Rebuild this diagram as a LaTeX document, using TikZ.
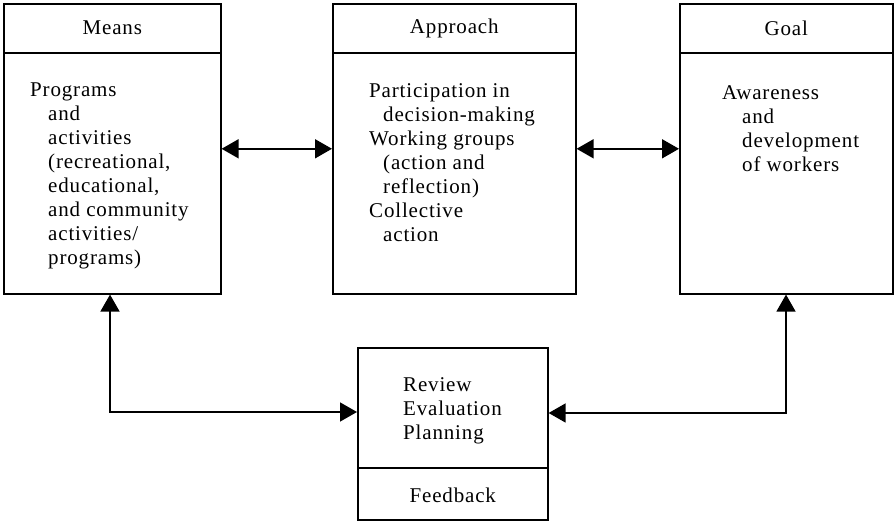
\documentclass[tikz,border=0pt]{standalone}
\usepackage{fontspec}
\setmainfont{Liberation Serif}[LetterSpace=4]
\usetikzlibrary{arrows.meta,calc}
\begin{document}
\begin{tikzpicture}[x=1pt,y=1pt,
  box/.style={draw,line width=1.6pt,rectangle,inner sep=0pt,anchor=north west},
  head/.style={font=\fontsize{21}{24}\selectfont,inner sep=0pt},
  body/.style={font=\fontsize{21}{24}\selectfont,align=left,anchor=north west,inner sep=0pt},
  link/.style={line width=1.6pt,{Triangle[length=17pt,width=19pt]}-{Triangle[length=17pt,width=19pt]}}
]
\useasboundingbox (0,0) rectangle (895,-521);

% three upper boxes
\node[box,minimum width=217pt,minimum height=290pt] (means) at (3,-3) {};
\node[box,minimum width=243pt,minimum height=290pt] (appr) at (332,-3) {};
\node[box,minimum width=213pt,minimum height=290pt] (goal) at (679,-3) {};
% lower box
\node[box,minimum width=190pt,minimum height=172pt] (rev) at (357,-347) {};

% header dividers
\foreach \b in {means,appr,goal}
  \draw[line width=1.6pt] ([yshift=-50pt]\b.north west) -- ([yshift=-50pt]\b.north east);
\draw[line width=1.6pt] ([yshift=-121pt]rev.north west) -- ([yshift=-121pt]rev.north east);

% headers
\node[head] (hm) at ($(means.north)+(0,-25)$) {Means};
\node[head] (ha) at ($(appr.north)+(0,-25)$) {Approach};
\node[head] (hg) at ($(goal.north)+(0,-25)$) {Goal};
\node[head] (fb) at ($(rev.south)+(0,25)$) {Feedback};

% body texts
\node[body] (tm) at (30,-83) {Programs\\\hspace*{18pt}and\\\hspace*{18pt}activities\\\hspace*{18pt}(recreational,\\\hspace*{18pt}educational,\\\hspace*{18pt}and community\\\hspace*{18pt}activities/\\\hspace*{18pt}programs)};
\node[body] (ta) at (369,-83) {Participation in\\\hspace*{14pt}decision-making\\Working groups\\\hspace*{14pt}(action and\\\hspace*{14pt}reflection)\\Collective\\\hspace*{14pt}action};
\node[body] (tg) at (722,-85) {Awareness\\\hspace*{20pt}and\\\hspace*{20pt}development\\\hspace*{20pt}of workers};
\node[body] (tr) at (403,-377) {Review\\Evaluation\\Planning};

% connectors
\coordinate (lx) at (110,0);
\coordinate (rx) at (786,0);
\coordinate (rl) at ([yshift=-65pt]rev.north west);
\coordinate (rr) at ([yshift=-66pt]rev.north east);
\draw[link] (means.east) -- (appr.west);
\draw[link] (appr.east) -- (goal.west);
\draw[link] (means.south -| lx) |- (rl);
\draw[link] (goal.south -| rx) |- (rr);
\end{tikzpicture}
\end{document}
